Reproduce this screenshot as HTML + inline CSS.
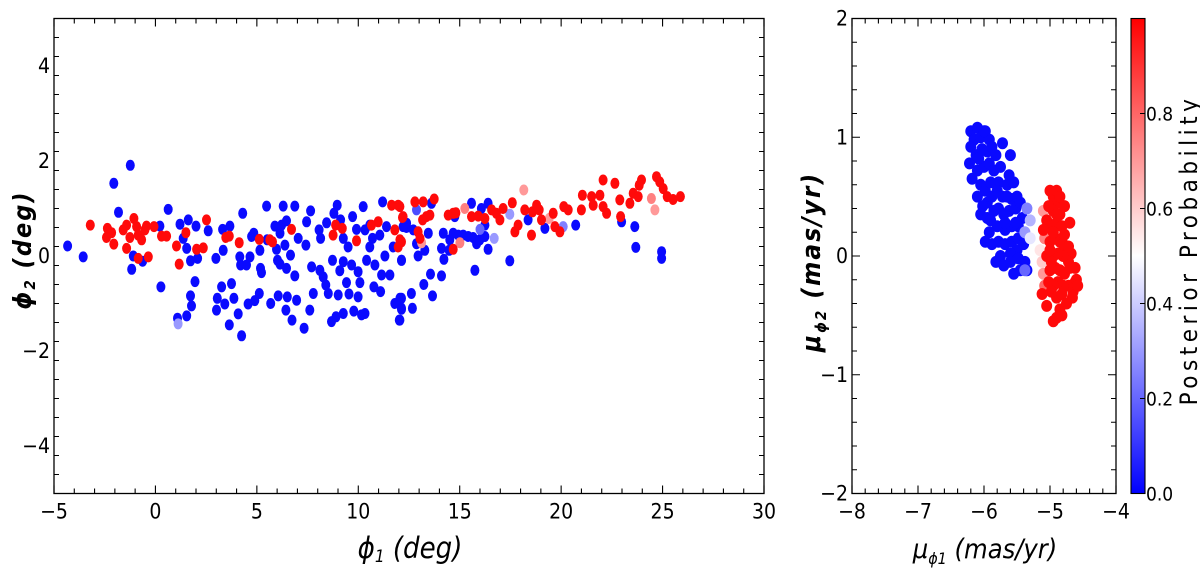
<!DOCTYPE html>
<html><head><meta charset="utf-8">
<style>
html,body{margin:0;padding:0;background:#fff;}
svg{display:block;}
text{font-family:"DejaVu Sans Condensed","DejaVu Sans","Liberation Sans",sans-serif;font-stretch:condensed;fill:#000;}
</style></head>
<body>
<svg id="fig" width="1200" height="579" viewBox="0 0 1200 579" xmlns="http://www.w3.org/2000/svg">
<defs>
<linearGradient id="bwr" x1="0" y1="1" x2="0" y2="0">
<stop offset="0" stop-color="#0000ff"/><stop offset="0.5" stop-color="#ffffff"/><stop offset="1" stop-color="#ff0000"/>
</linearGradient>
</defs>
<g id="left-panel"></g>
<g id="right-panel"></g>
<g id="cbar"></g>
</svg>
<script>
// ---------- left panel data (phi1, phi2 in deg) ----------
const nonPhi1 = [-4.33,-3.56,-1.24,-2.05,-1.82,-1.09,-1.17,-0.63,0.22,0.27,0.63,1.21,1.37,1.54,1.62,1.73,1.95,2.0,2.08,2.60,1.73,1.78,1.09,1.54,2.98,3.05,3.01,3.31,3.34,3.26,3.42,3.67,3.75,3.87,3.64,4.08,4.16,4.20,4.25,4.30,4.49,4.66,4.74,4.85,4.57,4.90,5.12,5.15,5.18,5.23,5.48,5.51,5.68,5.89,5.97,6.02,6.05,6.14,6.14,6.22,6.30,6.38,6.46,6.46,6.50,6.43,6.66,6.73,6.87,6.96,6.87,7.04,7.33,7.42,7.45,7.65,7.61,7.78,7.70,8.07,8.11,8.14,8.27,8.40,8.44,8.52,8.68,8.73,8.80,8.90,8.96,9.01,9.09,9.13,9.26,9.26,9.26,9.42,9.50,9.54,9.67,9.72,9.78,9.91,9.99,9.99,10.08,10.16,10.24,10.33,10.33,10.41,10.57,10.57,10.70,10.77,10.82,11.06,11.10,11.15,11.20,11.31,11.39,11.56,11.72,11.80,12.02,12.05,12.13,12.13,12.38,13.61,12.38,12.71,12.21,12.87,13.28,12.13,12.95,13.45,14.19,14.10,14.22,14.48,14.51,14.68,14.76,14.93,15.17,15.42,15.66,15.83,15.99,16.24,15.58,16.07,16.40,16.24,16.40,17.47,18.37,19.20,20.72,22.98,23.63,23.68,24.95,24.95,15.75,13.56,14.10,13.23,12.62,13.66,12.13,12.13,12.67,12.05];
const nonPhi2 = [0.21,-0.02,1.91,1.53,0.92,0.0,-0.28,-0.11,0.63,-0.65,0.98,0.67,0.37,0.16,0.76,-0.10,-0.54,0.63,-0.05,0.53,-0.84,-1.05,-1.31,-1.26,-0.05,-0.89,-1.14,0.56,0.12,-0.65,-1.01,0.63,-0.58,-0.89,-1.45,-1.22,-0.02,-0.19,-1.68,0.90,-0.19,-0.02,0.41,0.48,-1.01,-0.94,-0.79,0.12,-0.26,-0.35,1.05,0.34,-1.0,0.63,0.14,-0.09,-0.84,-0.17,0.48,0.65,1.05,0.23,0.74,-0.26,-0.86,-1.14,0.02,-1.35,1.05,-0.93,-0.42,0.37,-1.52,0.23,0.72,0.95,-1.14,-0.79,-0.23,0.55,-0.30,0.37,-0.44,-0.61,0.70,-0.79,-1.38,-0.09,0.90,-1.28,1.07,-0.82,-0.31,0.76,-0.12,0.37,-1.21,-0.56,0.19,-0.80,-0.19,0.83,-1.16,0.56,-0.33,-0.86,-0.56,-1.24,1.04,0.55,-1.21,-0.09,0.19,0.65,0.37,-0.65,-0.19,0.44,-0.75,-0.40,1.14,0.0,0.62,-0.40,0.19,-1.0,-1.35,-0.89,-1.10,-0.09,0.60,1.11,0.69,0.55,0.62,0.26,0.12,-0.09,0.0,0.48,0.48,0.16,-0.07,0.12,0.34,0.48,0.83,0.44,0.44,0.41,0.39,0.26,0.34,0.41,1.11,1.0,1.11,0.65,0.14,-0.10,0.76,0.58,0.65,0.72,0.62,0.18,0.09,-0.05,-0.30,-0.38,-0.42,-0.60,-0.79,-0.84,-0.89,-1.12,-1.10,-1.35];
const memPhi1 = [-3.21,-2.37,-2.16,-2.41,-2.05,-1.59,-1.42,-1.26,-1.06,-0.93,-0.85,-0.68,-0.52,-0.44,-1.42,-0.85,-0.35,-0.07,0.30,0.55,1.04,1.17,1.50,2.03,2.36,2.52,3.47,3.64,4.13,5.12,5.64,5.77,6.71,8.88,9.21,8.76,9.91,10.65,10.98,11.64,11.97,12.18,11.80,12.05,11.97,12.79,13.20,13.74,12.21,13.17,13.36,13.53,12.95,13.04,12.13,12.05,14.43,14.68,14.81,15.58,15.91,16.24,16.57,16.81,16.98,17.14,17.59,17.72,17.88,18.21,18.54,18.59,18.79,18.92,19.03,19.61,19.69,19.94,20.13,20.35,21.0,21.05,21.5,21.58,21.91,22.07,22.24,22.07,22.65,22.89,22.93,23.39,23.55,23.80,23.85,23.96,24.70,24.86,25.03,25.23,25.52,25.88,14.68];
const memPhi2 = [0.65,0.58,0.49,0.39,0.25,0.55,0.65,0.39,0.79,0.62,0.44,0.34,0.55,0.63,0.16,-0.05,-0.02,0.62,0.42,0.42,0.21,-0.17,0.49,0.14,0.17,0.76,0.39,0.42,0.28,0.35,0.34,0.30,0.56,0.65,0.58,0.44,0.32,0.65,0.72,1.07,1.07,0.81,0.55,0.34,0.19,1.14,1.14,1.20,0.83,0.76,0.83,0.86,0.51,0.37,0.30,1.04,0.86,0.90,0.91,0.83,0.84,0.79,0.97,0.90,0.76,1.0,1.12,0.51,0.65,0.97,0.44,0.93,1.07,0.97,0.76,0.90,0.62,0.51,1.04,0.97,0.97,1.28,1.25,1.07,1.28,1.04,0.90,1.60,1.53,1.18,0.83,1.11,1.32,1.25,1.49,1.60,1.67,1.56,1.42,1.25,1.19,1.25,0.14];
const midPhi1 = [1.12,15.25,18.16,19.41,24.45,24.62,15.01,13.12,16.70,17.47,20.10,16.0,12.87];
const midPhi2 = [-1.43,1.0,1.39,0.79,1.21,0.97,0.28,0.28,0.37,0.88,0.62,0.56,0.97];
const midProbL = [0.3,0.75,0.7,0.7,0.75,0.7,0.75,0.7,0.3,0.3,0.25,0.2,0.15];
const xTicksL = [-5,0,5,10,15,20,25,30];
const yTicksL = [-4,-2,0,2,4];

// ---------- right panel data (mu_phi1, mu_phi2 in mas/yr) ----------
const nonMu1 = [-6.2,-6.15,-6.1,-6.05,-5.98,-5.92,-6.2,-6.22,-6.12,-6.03,-5.95,-5.88,-5.82,-6.18,-6.1,-6.0,-5.92,-5.85,-5.75,-5.78,-6.05,-5.98,-5.9,-6.1,-5.95,-5.88,-5.8,-5.72,-5.65,-5.62,-5.55,-5.58,-5.5,-6.05,-5.95,-5.85,-5.78,-5.7,-5.62,-5.52,-5.45,-5.42,-5.48,-5.58,-5.68,-5.8,-5.92,-5.98,-5.88,-5.78,-5.68,-5.58,-5.48,-5.4,-5.5,-5.6,-5.75,-5.82,-5.7,-5.6,-5.48,-5.38,-5.45,-5.55,-5.35,-5.6,-6.0,-6.08,-5.72,-5.68,-5.52,-5.65,-5.9,-6.02];
const nonMu2 = [1.05,0.98,1.08,1.0,1.05,0.98,0.92,0.78,0.85,0.9,0.88,0.92,0.85,0.65,0.72,0.75,0.78,0.72,0.75,0.62,0.6,0.55,0.62,0.5,0.45,0.5,0.55,0.5,0.6,0.68,0.62,0.48,0.5,0.35,0.32,0.38,0.4,0.35,0.38,0.4,0.45,0.32,0.25,0.25,0.22,0.25,0.2,0.12,0.1,0.12,0.1,0.12,0.15,0.1,0.05,0.02,0.0,-0.05,-0.08,-0.05,-0.02,-0.05,-0.12,-0.15,-0.12,0.85,1.05,0.82,0.95,0.28,0.28,0.5,0.3,0.42];
const memMu1 = [-5.0,-4.95,-4.88,-4.9,-5.02,-4.95,-4.85,-5.05,-4.98,-4.9,-4.82,-5.0,-4.92,-4.85,-4.78,-4.75,-4.68,-4.72,-4.8,-4.88,-4.95,-5.05,-5.0,-4.92,-4.85,-4.78,-4.7,-4.62,-4.65,-4.72,-4.8,-4.88,-4.95,-5.02,-4.98,-4.9,-4.82,-5.05,-4.85,-4.9,-4.95,-4.82,-4.98,-4.9,-4.8,-4.72,-4.95,-4.85,-4.6,-4.58,-4.66,-4.75,-4.62,-5.1,-5.12,-4.7,-4.78,-5.0];
const memMu2 = [0.55,0.5,0.45,0.55,0.42,0.38,0.35,0.3,0.25,0.28,0.25,0.12,0.15,0.12,0.18,0.05,0.02,-0.05,0.0,0.02,0.0,0.0,-0.12,-0.1,-0.12,-0.15,-0.1,-0.22,-0.3,-0.25,-0.25,-0.22,-0.25,-0.22,-0.3,-0.35,-0.32,-0.42,-0.45,-0.52,-0.55,-0.5,-0.05,0.35,0.1,0.08,0.2,0.5,-0.2,-0.25,-0.35,-0.4,-0.1,0.22,-0.32,0.28,0.42,0.05];
const midMu1 = [-5.38,-5.3,-5.3,-5.35,-5.1,-5.08,-5.12,-5.15,-5.1,-5.08,-5.38];
const midMu2 = [0.2,0.3,0.15,0.4,0.38,0.15,-0.05,0.05,-0.15,-0.25,-0.12];
const midProbR = [0.3,0.35,0.45,0.25,0.7,0.75,0.6,0.55,0.7,0.8,0.2];
const xTicksR = [-8,-7,-6,-5,-4];
const yTicksR = [-2,-1,0,1,2];
const cbarTicks = [0.0,0.2,0.4,0.6,0.8];

const NS = 'http://www.w3.org/2000/svg';
function mk(tag, attrs, parent){
  const e = document.createElementNS(NS, tag);
  for (const k in attrs) e.setAttribute(k, attrs[k]);
  parent.appendChild(e);
  return e;
}
function bwr(p){
  let r,g,b;
  if (p < 0.5){ r = Math.round(510*p); g = r; b = 255; }
  else { r = 255; g = Math.round(510*(1-p)); b = g; }
  return 'rgb('+r+','+g+','+b+')';
}
function fmt(v){ return (v<0?'\u2212':'') + Math.abs(v); }

// ---------- left panel ----------
const L = document.getElementById('left-panel');
const LX0=54, LX1=764, LY0=18.5, LY1=493.5;
const xL = v => LX0 + (v - (-5)) * (LX1-LX0) / 35;
const yL = v => LY1 - (v - (-5)) * (LY1-LY0) / 10;

function drawPts(g, xs, ys, pfn, sx, sy, rx, ry, name){
  for (let i=0;i<xs.length;i++){
    const c = mk('ellipse', {cx:sx(xs[i]).toFixed(1), cy:sy(ys[i]).toFixed(1), rx:rx, ry:ry, fill:bwr(pfn(i))}, g);
    
    
  }
}
const ptsL = mk('g', {}, L);


drawPts(ptsL, nonPhi1, nonPhi2, i=>0.02, xL, yL, 4.5, 5.5, 'non-member-star');
drawPts(ptsL, midPhi1, midPhi2, i=>midProbL[i], xL, yL, 4.5, 5.5, 'uncertain-star');
drawPts(ptsL, memPhi1, memPhi2, i=>0.98, xL, yL, 4.5, 5.5, 'member-star');

function frame(g, x0, y0, x1, y1, name){
  const r = mk('rect', {x:x0, y:y0, width:x1-x0, height:y1-y0, fill:'none', stroke:'#000', 'stroke-width':1.3}, g);
  
  
}
function ticks(g, x0,y0,x1,y1, xmin,xmax,xstep,xminor, ymin,ymax,ystep,yminor, sx, sy, xt, yt){
  let d='';
  const n1 = Math.round((xmax-xmin)/xminor);
  for (let i=0;i<=n1;i++){
    const v = xmin + i*xminor;
    const major = Math.abs(v/xstep - Math.round(v/xstep))<1e-6;
    const len = major?8:5; const X=sx(v);
    d += 'M'+X+' '+y1+'v'+(-len)+'M'+X+' '+y0+'v'+len;
  }
  const n2 = Math.round((ymax-ymin)/yminor);
  for (let i=0;i<=n2;i++){
    const v = ymin + i*yminor;
    const major = Math.abs(v/ystep - Math.round(v/ystep))<1e-6;
    const len = major?8:5; const Y=sy(v);
    d += 'M'+x0+' '+Y+'h'+len+'M'+x1+' '+Y+'h'+(-len);
  }
  mk('path', {d:d, stroke:'#000', 'stroke-width':1.1, fill:'none'}, g);
  for (const v of xt){
    const t = mk('text', {x:sx(v), y:y1+25, 'text-anchor':'middle', 'font-size':21}, g);
    t.textContent = fmt(v);
    
    
  }
  for (const v of yt){
    const t = mk('text', {x:x0-4, y:sy(v)+7, 'text-anchor':'end', 'font-size':21}, g);
    t.textContent = fmt(v);
    
    
  }
}
frame(L, LX0, LY0, LX1, LY1, 'sky-plot-frame');
ticks(L, LX0,LY0,LX1,LY1, -5,30,5,1, -5,5,2,0.4, xL, yL, xTicksL, yTicksL);

// ---------- right panel ----------
const R = document.getElementById('right-panel');
const RX0=852, RX1=1116, RY0=18.5, RY1=493.5;
const xR = v => RX0 + (v - (-8)) * (RX1-RX0) / 4;
const yR = v => RY1 - (v - (-2)) * (RY1-RY0) / 4;
const ptsR = mk('g', {}, R);


drawPts(ptsR, nonMu1, nonMu2, i=>0.02, xR, yR, 5.5, 6, 'non-member-star');
drawPts(ptsR, midMu1, midMu2, i=>midProbR[i], xR, yR, 5.5, 6, 'uncertain-star');
drawPts(ptsR, memMu1, memMu2, i=>0.98, xR, yR, 5.5, 6, 'member-star');
frame(R, RX0, RY0, RX1, RY1, 'proper-motion-plot-frame');
ticks(R, RX0,RY0,RX1,RY1, -8,-4,1,0.2, -2,2,1,0.2, xR, yR, xTicksR, yTicksR);

// ---------- colorbar ----------
const C = document.getElementById('cbar');
const CX0=1131, CX1=1145, CY0=18.5, CY1=493.5;
const yC = v => CY1 - v*(CY1-CY0);
const cb = mk('rect', {x:CX0, y:CY0, width:CX1-CX0, height:CY1-CY0, fill:'url(#bwr)', stroke:'#000', 'stroke-width':1.1}, C);


let cd='';
for (const v of cbarTicks){ cd += 'M'+CX1+' '+yC(v)+'h-5'; }
mk('path', {d:cd, stroke:'#000', 'stroke-width':1.1}, C);
for (const v of cbarTicks){
  const t = mk('text', {x:CX1+1, y:yC(v)+7, 'font-size':19}, C);
  t.textContent = v.toFixed(1);
  
  
}
</script>
<script>
const F = document.getElementById('fig');
function lab(html, attrs, name){
  const t = document.createElementNS('http://www.w3.org/2000/svg','text');
  for (const k in attrs) t.setAttribute(k, attrs[k]);
  t.innerHTML = html;
  
  
  F.appendChild(t);
}
lab('ϕ<tspan font-size="17" dy="4">1</tspan><tspan dy="-4"> (deg)</tspan>', {x:410, y:558, 'text-anchor':'middle', 'font-size':29, 'font-style':'italic'}, 'x-axis-title');
lab('ϕ<tspan font-size="15" dy="4">2</tspan><tspan dy="-4">  (deg)</tspan>', {x:0, y:0, transform:'translate(31,250) rotate(-90)', 'text-anchor':'middle', 'font-size':25, 'font-style':'italic', 'font-weight':'bold', 'letter-spacing':'2'}, 'y-axis-title');
lab('μ<tspan font-size="16" dy="6">ϕ1</tspan><tspan dy="-6"> (mas/yr)</tspan>', {x:985, y:558, 'text-anchor':'middle', 'font-size':27, 'font-style':'italic'}, 'pm-x-axis-title');
lab('μ<tspan font-size="15" dy="6">ϕ2</tspan><tspan dy="-6">  (mas/yr)</tspan>', {x:0, y:0, transform:'translate(820,262) rotate(-90)', 'text-anchor':'middle', 'font-size':26, 'font-style':'italic', 'font-weight':'bold', 'letter-spacing':'2'}, 'pm-y-axis-title');
lab('Posterior Probability', {x:0, y:0, transform:'translate(1197,250) rotate(-90)', 'text-anchor':'middle', 'font-size':24, 'letter-spacing':'4.5', 'font-family':'DejaVu Sans, sans-serif'}, 'colorbar-title');
</script>
</body></html>
